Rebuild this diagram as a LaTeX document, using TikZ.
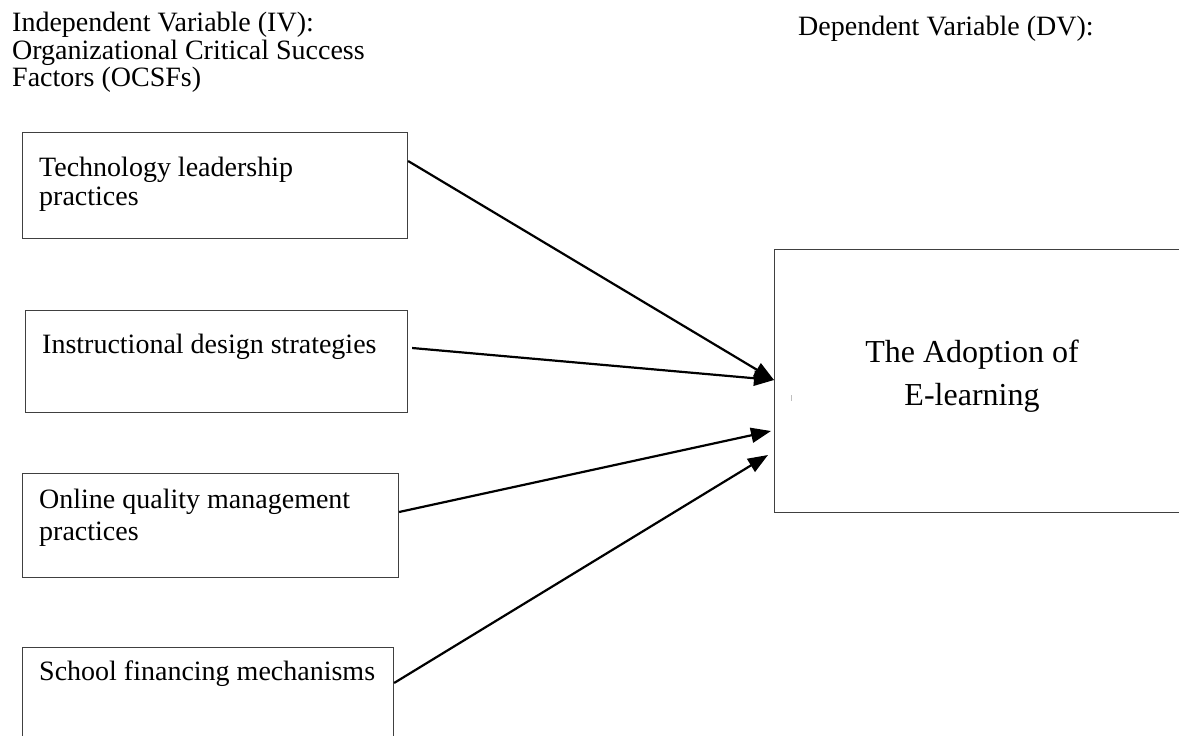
\documentclass[tikz,border=0pt]{standalone}
\usepackage{fontspec}
\setmainfont{Liberation Serif}
\usetikzlibrary{arrows.meta,calc}
\begin{document}
\begin{tikzpicture}[x=1pt,y=-1pt,
  box/.style={draw=black!75,line width=1.1pt,inner sep=0pt,anchor=north west},
  lbl/.style={anchor=base west,inner sep=0pt,font=\fontsize{28}{30}\selectfont},
  biglbl/.style={anchor=base,inner sep=0pt,font=\fontsize{32}{34}\selectfont},
  link/.style={line width=2.2pt,-{Triangle[length=20pt,width=15pt]}}]
\useasboundingbox (0,0) rectangle (1179,736);
\clip (0,0) rectangle (1179,736);

% headings
\node[lbl] (ivA) at (12,31) {Independent Variable (IV):};
\node[lbl] (ivB) at (12,59) {Organizational Critical Success};
\node[lbl] (ivC) at (12,86) {Factors (OCSFs)};
\node[lbl] (dvh) at (798,35) {Dependent Variable (DV):};

% factor boxes
\node[box,minimum width=385pt,minimum height=106pt] (tl) at (22,132) {};
\node[box,minimum width=382pt,minimum height=102pt] (id) at (25,310) {};
\node[box,minimum width=376pt,minimum height=104pt] (oq) at (22,473) {};
\node[box,minimum width=371pt,minimum height=130pt] (sf) at (22,647) {};

\node[lbl] (tlA) at (39,176) {Technology leadership};
\node[lbl] (tlB) at (39,205) {practices};
\node[lbl] (idA) at (42,353) {Instructional design strategies};
\node[lbl] (oqA) at (39,508) {Online quality management};
\node[lbl] (oqB) at (39,540) {practices};
\node[lbl] (sfA) at (39,680) {School financing mechanisms};

% outcome box
\node[box,minimum width=430pt,minimum height=263pt] (dv) at (774,249) {};
\node[biglbl] (dvA) at (972,362) {The Adoption of};
\node[biglbl] (dvB) at (972,405) {E-learning};
\draw[black!25,line width=0.8pt] ($(dv.north west)+(17,146)$) -- ($(dv.north west)+(17,152)$);

% connectors
\draw[link] ($(tl.north east)+(0,29)$) -- ($(dv.north west)+(0,131)$);
\draw[link] ($(id.north east)+(4,38)$) -- ($(dv.north west)+(0,131)$);
\draw[link] ($(oq.north east)+(0,39)$) -- ($(dv.north west)+(-3,182)$);
\draw[link] ($(sf.north east)+(0,36)$) -- ($(dv.north west)+(-6,206)$);
\end{tikzpicture}
\end{document}
